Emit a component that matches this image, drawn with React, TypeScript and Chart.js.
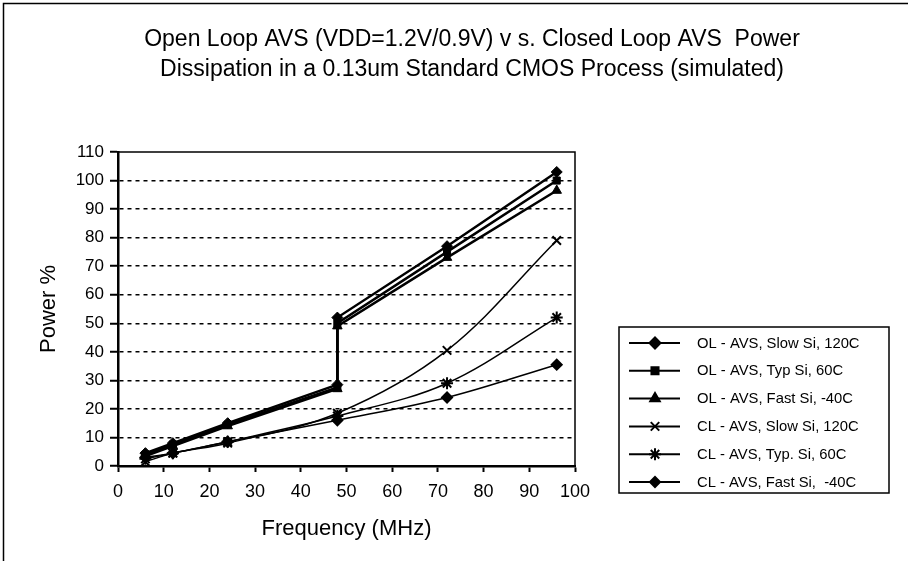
import React, { useEffect, useRef } from 'react';
import { Chart, registerables } from 'chart.js';
import { drawPoint } from 'chart.js/helpers';

Chart.register(...registerables);

// ---- data ----
const titleLines = [
  'Open Loop AVS (VDD=1.2V/0.9V) v s. Closed Loop AVS  Power',
  'Dissipation in a 0.13um Standard CMOS Process (simulated)',
];
const xAxisTitle = 'Frequency (MHz)';
const yAxisTitle = 'Power %';

const freqOL = [6, 12, 24, 48, 48, 72, 96];
const freqCL = [6, 12, 24, 48, 72, 96];

const olSlow = [4.5, 8, 15, 28.5, 52, 77, 103];
const olTyp = [4, 7.5, 14.5, 27.5, 50, 75, 100];
const olFast = [3.5, 7, 14, 27, 49, 73, 96.5];
const clSlow = [1.5, 4.5, 8, 18.5, 40.5, 79];
const clTyp = [2.5, 4.5, 8.5, 17.5, 29, 52];
const clFast = [3, 4.5, 8.5, 16, 24, 35.5];

const seriesNames = [
  'OL - AVS, Slow Si, 120C',
  'OL - AVS, Typ Si, 60C',
  'OL - AVS, Fast Si, -40C',
  'CL - AVS, Slow Si, 120C',
  'CL - AVS, Typ. Si, 60C',
  'CL - AVS, Fast Si,  -40C',
];

const xMin = 0;
const xMax = 100;
const xStep = 10;
const yMin = 0;
const yMax = 110;
const yStep = 10;

const FONT = "'Liberation Sans', Arial, sans-serif";

const toPts = (xs: number[], ys: number[]) => ys.map((y, i) => ({ x: xs[i], y }));

const markerStyles: any[] = ['rectRot', 'rect', 'triangle', 'crossRot', 'star', 'rectRot'];
const markerRadius = [5.5, 5, 5.5, 6, 6, 5];
const lineWidths = [2.5, 2.5, 2.5, 1.5, 1.5, 1.5];

const decorPlugin = {
  id: 'decor',
  afterDraw(chart: any) {
    const ctx: CanvasRenderingContext2D = chart.ctx;
    const ca = chart.chartArea;
    ctx.save();
    // outer chart border (left & top)
    ctx.strokeStyle = '#000';
    ctx.lineWidth = 1.5;
    ctx.beginPath();
    ctx.moveTo(3.5, 561);
    ctx.lineTo(3.5, 3.5);
    ctx.lineTo(908, 3.5);
    ctx.stroke();

    // plot area border top & right
    ctx.lineWidth = 1.5;
    ctx.beginPath();
    ctx.moveTo(ca.left, ca.top);
    ctx.lineTo(ca.right, ca.top);
    ctx.lineTo(ca.right, ca.bottom);
    ctx.stroke();

    // title
    ctx.fillStyle = '#000';
    ctx.font = `23px ${FONT}`;
    ctx.textAlign = 'center';
    ctx.textBaseline = 'middle';
    ctx.fillText(titleLines[0], 472, 40);
    ctx.fillText(titleLines[1], 472, 70);

    // axis titles
    ctx.font = `22px ${FONT}`;
    ctx.fillText(xAxisTitle, (ca.left + ca.right) / 2, 529);
    ctx.save();
    ctx.translate(49, (ca.top + ca.bottom) / 2);
    ctx.rotate(-Math.PI / 2);
    ctx.fillText(yAxisTitle, 0, 0);
    ctx.restore();

    // legend
    const lx = 619, ly = 327, lw = 270, lh = 166;
    ctx.lineWidth = 1.5;
    ctx.strokeRect(lx, ly, lw, lh);
    ctx.font = `14.8px ${FONT}`;
    ctx.textAlign = 'left';
    chart.data.datasets.forEach((ds: any, i: number) => {
      const y = 343 + i * 27.8;
      ctx.strokeStyle = '#000';
      ctx.lineWidth = 2;
      ctx.beginPath();
      ctx.moveTo(629, y);
      ctx.lineTo(680, y);
      ctx.stroke();
      ctx.fillStyle = '#000';
      ctx.lineWidth = 2;
      drawPoint(ctx, { pointStyle: markerStyles[i], radius: markerRadius[i], borderWidth: 2, rotation: 0 } as any, 655, y);
      ctx.fillStyle = '#000';
      ctx.fillText(seriesNames[i], 697, y + 0.5);
    });
    ctx.restore();
  },
};

export default function App() {
  const ref = useRef<HTMLCanvasElement>(null);
  useEffect(() => {
    if (!ref.current) return;
    const series = [
      { xs: freqOL, ys: olSlow, tension: 0 },
      { xs: freqOL, ys: olTyp, tension: 0 },
      { xs: freqOL, ys: olFast, tension: 0 },
      { xs: freqCL, ys: clSlow, tension: 0.35 },
      { xs: freqCL, ys: clTyp, tension: 0.35 },
      { xs: freqCL, ys: clFast, tension: 0.35 },
    ];
    const chart = new Chart(ref.current, {
      type: 'scatter',
      data: {
        datasets: series.map((s, i) => ({
          label: seriesNames[i],
          data: toPts(s.xs, s.ys),
          showLine: true,
          tension: s.tension,
          borderColor: '#000',
          backgroundColor: '#000',
          borderWidth: lineWidths[i],
          pointStyle: markerStyles[i],
          pointRadius: markerRadius[i],
          pointBorderWidth: i >= 3 ? 2 : 1,
          pointBackgroundColor: '#000',
          pointBorderColor: '#000',
        })),
      },
      options: {
        responsive: false,
        animation: false,
        layout: { padding: { top: 152, right: 333, left: 0, bottom: 0 } },
        plugins: {
          legend: { display: false },
          title: { display: false },
          tooltip: { enabled: false },
        },
        scales: {
          x: {
            type: 'linear',
            min: xMin,
            max: xMax,
            afterFit: (s: any) => { s.height = 95; },
            ticks: { stepSize: xStep, color: '#000', font: { family: FONT, size: 18 }, padding: 9, maxRotation: 0 },
            grid: { drawOnChartArea: false, drawTicks: true, tickLength: 6, tickColor: '#000', tickWidth: 2 },
            border: { display: true, color: '#000', width: 2.5 },
          },
          y: {
            type: 'linear',
            min: yMin,
            max: yMax,
            afterFit: (s: any) => { s.width = 118; },
            ticks: { stepSize: yStep, color: '#000', font: { family: FONT, size: 17 }, padding: 6 },
            grid: {
              color: (c: any) => (c.tick && (c.tick.value === yMax || c.tick.value === yMin) ? 'rgba(0,0,0,0)' : '#000'),
              lineWidth: 1.5,
              drawTicks: true,
              tickLength: 8,
              tickColor: '#000',
              tickWidth: 2,
            },
            border: { display: true, color: '#000', width: 2.5, dash: [4, 4] },
          },
        },
      },
      plugins: [decorPlugin],
    });
    return () => chart.destroy();
  }, []);
  return (
    <div style={{ position: 'absolute', left: 0, top: 0, width: 908, height: 561, background: '#fff' }}>
      <canvas ref={ref} width={908} height={561} style={{ display: 'block' }} />
    </div>
  );
}
